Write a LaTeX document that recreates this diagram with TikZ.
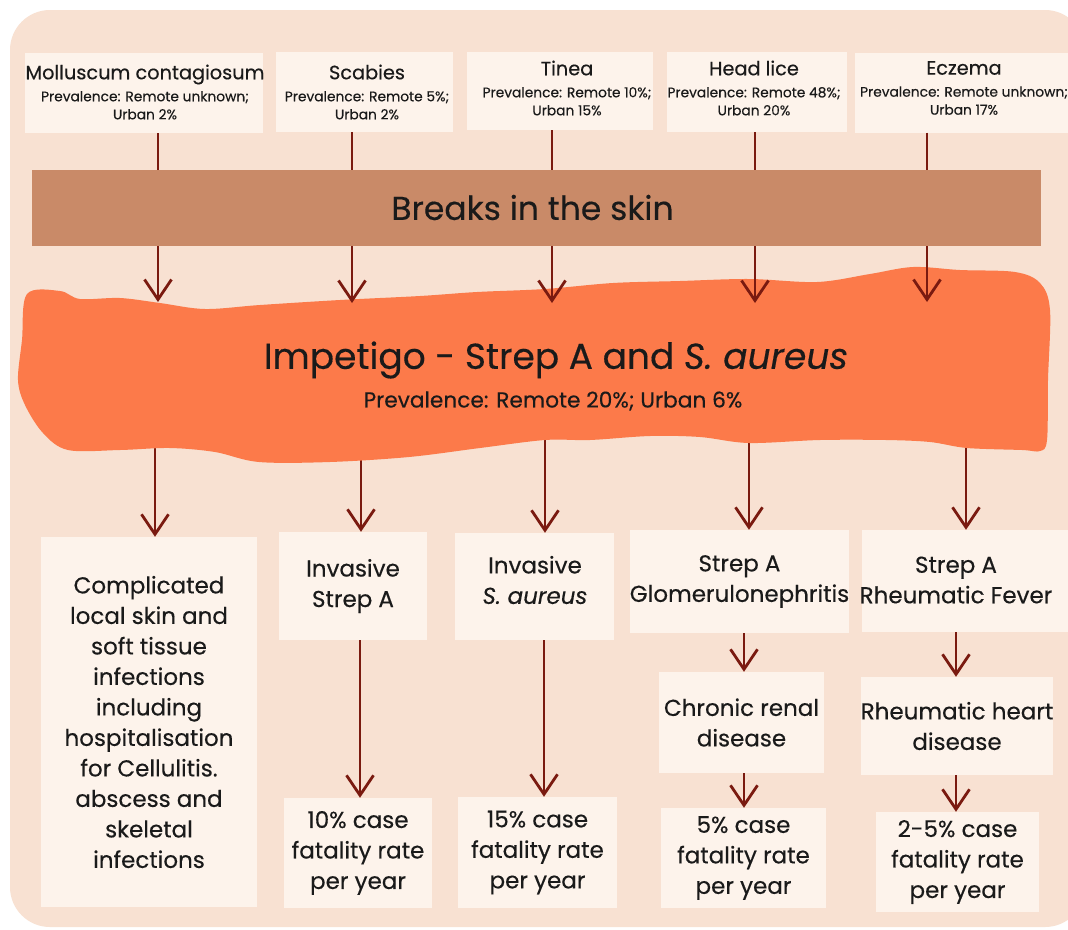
\documentclass[tikz,border=0pt]{standalone}
\usepackage{fontspec}
\setmainfont{Poppins}[FakeBold=0.35]
\usetikzlibrary{arrows.meta}
\definecolor{panelc}{HTML}{F8E1D2}
\definecolor{boxc}{HTML}{FDF3EB}
\definecolor{bandc}{HTML}{C98A68}
\definecolor{blobc}{HTML}{FC7A4A}
\definecolor{arrowc}{HTML}{7A1A10}
\definecolor{txtc}{HTML}{1A1A1A}
\begin{document}
\begin{tikzpicture}[x=1pt,y=-1pt,
  box/.style={fill=boxc, inner sep=0pt, align=center, text=txtc},
  topbox/.style={box, minimum height=80pt, font=\fontsize{14}{18}\selectfont},
  lowbox/.style={box, font=\fontsize{23}{30.5}\selectfont},
  txt/.style={inner sep=0pt, align=center, text=txtc},
  arr/.style={draw=arrowc, line width=2.8pt, -{Straight Barb[length=20pt,width=27pt]}},
  band/.style={fill=bandc, inner sep=0pt, text=txtc, font=\fontsize{33}{36}\selectfont}
]
\useasboundingbox (0,0) rectangle (1068,929);
\fill[white] (0,0) rectangle (1068,929);
\clip (0,0) rectangle (1068,929);
\fill[panelc, rounded corners=40pt] (10,10) rectangle (1085,927);

% top boxes
\node[topbox, minimum width=238pt] (mol) at (144,93) {};
\node[txt, font=\fontsize{13.8}{18}\selectfont] (molT) at (145,92) {{\fontsize{19.3}{24}\selectfont Molluscum contagiosum}\\[4pt]Prevalence: Remote unknown;\\Urban 2\%};
\node[topbox, minimum width=177pt] (sca) at (364.5,92) {};
\node[txt, font=\fontsize{13.8}{18}\selectfont] (scaT) at (367,92) {{\fontsize{19.3}{24}\selectfont Scabies}\\[4pt]Prevalence: Remote 5\%;\\Urban 2\%};
\node[topbox, minimum width=186pt, minimum height=78pt] (tin) at (560,91) {};
\node[txt, font=\fontsize{13.8}{18}\selectfont] (tinT) at (567,88) {{\fontsize{19.3}{24}\selectfont Tinea}\\[4pt]Prevalence: Remote 10\%;\\Urban 15\%};
\node[topbox, minimum width=180pt] (hl) at (757,92) {};
\node[txt, font=\fontsize{13.8}{18}\selectfont] (hlT) at (754,88) {{\fontsize{19.3}{24}\selectfont Head lice}\\[4pt]Prevalence: Remote 48\%;\\Urban 20\%};
\node[topbox, minimum width=216pt] (ecz) at (963,92.5) {};
\node[txt, font=\fontsize{13.8}{18}\selectfont] (eczT) at (964,88) {{\fontsize{19.3}{24}\selectfont Eczema}\\[4pt]Prevalence: Remote unknown;\\Urban 17\%};

% arrow positions
\coordinate (t1) at (158,302);
\coordinate (t2) at (352,303);
\coordinate (t3) at (552,303);
\coordinate (t4) at (755,303);
\coordinate (t5) at (927,302);
\coordinate (b1) at (155,430);
\coordinate (b2) at (361,430);
\coordinate (b3) at (545,430);
\coordinate (b4) at (749,430);
\coordinate (b5) at (966,430);

% lower boxes
\node[lowbox, minimum width=216pt, minimum height=370pt] (cslt) at (149,722) {Complicated\\local skin and\\soft tissue\\infections\\including\\hospitalisation\\for Cellulitis.\\abscess and\\skeletal\\infections};
\node[lowbox, minimum width=148pt, minimum height=108pt] (isa) at (353,586) {Invasive\\Strep A};
\node[lowbox, minimum width=159pt, minimum height=107pt] (sau) at (534.5,586.5) {};
\node[txt, font=\fontsize{23}{30.5}\selectfont] (sauT) at (535,580) {Invasive\\\textit{S. aureus}};
\node[lowbox, minimum width=219pt, minimum height=103pt] (glo) at (739.5,581.5) {Strep A\\Glomerulonephritis};
\node[lowbox, minimum width=213pt, minimum height=102pt] (rf) at (968.5,581) {};
\node[txt, font=\fontsize{23}{30.5}\selectfont] (rfT) at (956,580) {Strep A\\Rheumatic Fever};
\node[lowbox, minimum width=165pt, minimum height=101pt] (crd) at (741.5,722.5) {Chronic renal\\disease};
\node[lowbox, minimum width=190pt, minimum height=98pt] (rhd) at (957,726) {Rheumatic heart\\disease};
\node[lowbox, minimum width=148pt, minimum height=110pt] (f10) at (358,853) {10\% case\\fatality rate\\per year};
\node[lowbox, minimum width=159pt, minimum height=111pt] (f15) at (537.5,852.5) {15\% case\\fatality rate\\per year};
\node[lowbox, minimum width=165pt, minimum height=100pt] (f5) at (743.5,858) {5\% case\\fatality rate\\per year};
\node[lowbox, minimum width=163pt, minimum height=100pt] (f25) at (957.5,862) {2-5\% case\\fatality rate\\per year};

% arrows from impetigo down
\draw[arr] (b1) -- (b1 |- cslt.north);
\draw[arr] (b2) -- (b2 |- isa.north);
\draw[arr] (b3) -- (b3 |- sau.north);
\draw[arr] (b4) -- (b4 |- glo.north);
\draw[arr] (b5) -- (b5 |- rf.north);

% impetigo blob
\fill[blobc] plot[smooth cycle, tension=0.55] coordinates {
 (27,294) (60,291) (80,299) (120,298) (160,303) (205,309) (260,305) (340,300)
 (420,296) (477,292) (545,289) (613,283) (680,281) (749,279) (817,282) (870,274)
 (913,267) (960,270) (1015,272) (1040,283) (1050,310) (1048,380) (1047,440)
 (1040,451) (1022,450) (967,448) (930,442) (886,440) (820,440) (749,443)
 (700,437) (650,436) (590,440) (545,440) (480,448) (409,457) (330,462)
 (259,462) (215,452) (170,448) (120,450) (68,450) (43,433) (25,405) (18,380)
 (22,340)};
\node[txt, font=\fontsize{36}{40}\selectfont] (imp) at (556,360) {Impetigo - Strep A and \textit{S. aureus}};
\node[txt, font=\fontsize{21.7}{24}\selectfont] (impsub) at (553,401) {Prevalence: Remote 20\%; Urban 6\%};

% top arrows
\draw[arr] (mol.south -| t1) -- (t1);
\draw[arr] (sca.south -| t2) -- (t2);
\draw[arr] (tin.south -| t3) -- (t3);
\draw[arr] (hl.south -| t4) -- (t4);
\draw[arr] (ecz.south -| t5) -- (t5);

% band
\node[band, minimum width=1009pt, minimum height=76pt] (brk) at (536.5,207.5) {Breaks in the skin\hspace*{8pt}};

% lower chain arrows
\coordinate (c1) at (360,0);
\coordinate (c2) at (544,0);
\coordinate (c3) at (744,0);
\coordinate (c4) at (956,0);
\draw[arr] (isa.south -| c1) -- (f10.north -| c1);
\draw[arr] (sau.south -| c2) -- (f15.north -| c2);
\draw[arr] (glo.south -| c3) -- (crd.north -| c3);
\draw[arr] (crd.south -| c3) -- (f5.north -| c3);
\draw[arr] (rf.south -| c4) -- (rhd.north -| c4);
\draw[arr] (rhd.south -| c4) -- (f25.north -| c4);
\end{tikzpicture}
\end{document}
